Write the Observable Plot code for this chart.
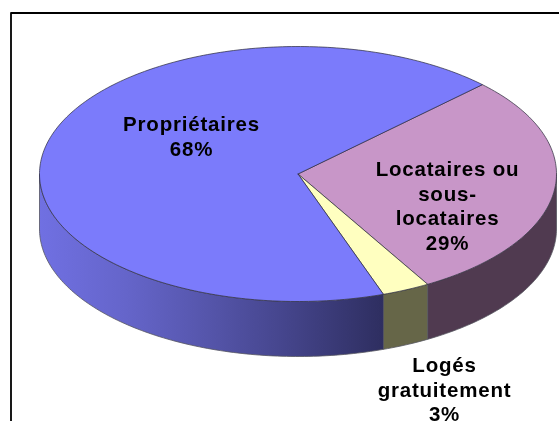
<!DOCTYPE html>
<html>
<head>
<meta charset="utf-8">
<script src="https://cdn.jsdelivr.net/npm/d3@7"></script>
<script src="https://cdn.jsdelivr.net/npm/@observablehq/plot@0.6"></script>
<style>
html, body { margin: 0; padding: 0; background: #fff; overflow: hidden; }
svg text { letter-spacing: 0.8px; }
svg { filter: blur(0.35px); }
</style>
</head>
<body>
<div id="chart"></div>
<script>
// Data
const categories = ["Locataires ou\nsous-\nlocataires", "Logés\ngratuitement", "Propriétaires"];
const shares = [29, 3, 68];

// Styles
const topColors = ["#c896c8", "#ffffc0", "#7b7bfb"];
const sideColors = ["#503a50", "#666648", "url(#sideGradient)"];
const gradientStops = [
  [0, "#7070e2"], [0.25, "#6565ca"], [0.45, "#5858b0"], [0.7, "#46468e"], [1, "#2e2e60"]
];

// Layout of the tilted disc
const cx = 297.5, cy = 173.5, rx = 258.5, ry = 127.5, depth = 55;
const startAngle = 45.5;
const labelPlaces = [[447, 158], [444, 354], [191, 113]];

const rad = Math.PI / 180;
const px = a => cx + rx * Math.sin(a * rad);
const py = a => cy - ry * Math.cos(a * rad);
const arc = (a0, a1) => {
  const n = Math.max(2, Math.ceil(Math.abs(a1 - a0)));
  return d3.range(n + 1).map(i => a0 + (a1 - a0) * i / n);
};

// Slice angles follow from the shares
let running = startAngle;
const slices = categories.map((c, i) => {
  const a0 = running;
  const a1 = a0 + shares[i] * 3.6;
  running = a1;
  return {i, a0, a1};
});

const topPoints = slices.flatMap(({i, a0, a1}) => [
  {id: i, x: cx, y: cy, fill: topColors[i]},
  ...arc(a0, a1).map(a => ({id: i, x: px(a), y: py(a), fill: topColors[i]})),
  {id: i, x: cx, y: cy, fill: topColors[i]}
]);

// The wall is visible on the front half of the disc, from 90° to 270°
const sidePoints = slices.flatMap(({i, a0, a1}) => {
  const s0 = Math.max(a0, 90), s1 = Math.min(a1, 270);
  if (s1 <= s0) return [];
  const range = arc(s0, s1);
  return [
    ...range.map(a => ({id: i, x: px(a), y: py(a), fill: sideColors[i]})),
    ...range.reverse().map(a => ({id: i, x: px(a), y: py(a) + depth, fill: sideColors[i]}))
  ].concat([{id: i, x: px(s0), y: py(s0), fill: sideColors[i]}]);
});

const labelRows = categories.map((c, i) => ({
  text: `${c}\n${shares[i]}%`,
  x: labelPlaces[i][0],
  y: labelPlaces[i][1]
}));

const frame = [{x: 10.5, y: 421}, {x: 10.5, y: 12.5}, {x: 559, y: 12.5}];

const gradient = () => {
  const svg = d3.create("svg:g");
  const g = svg.append("defs").append("linearGradient")
    .attr("id", "sideGradient")
    .attr("x1", 0).attr("x2", 1).attr("y1", 0).attr("y2", 0);
  gradientStops.forEach(([o, c]) => g.append("stop").attr("offset", o).attr("stop-color", c));
  return svg.node();
};

const plot = Plot.plot({
  width: 559,
  height: 421,
  margin: 0,
  x: {domain: [0, 559], range: [0, 559], axis: null},
  y: {domain: [0, 421], range: [0, 421], axis: null},
  color: {type: "identity"},
  marks: [
    gradient,
    Plot.line(frame, {x: "x", y: "y", stroke: "#000", strokeWidth: 1.8, curve: "linear"}),
    Plot.line(sidePoints, {x: "x", y: "y", z: "id", fill: "fill", stroke: "#55555f", strokeWidth: 0.8, curve: "linear"}),
    Plot.line(topPoints, {x: "x", y: "y", z: "id", fill: "fill", stroke: "#2a2a3a", strokeWidth: 0.7, curve: "linear"}),
    Plot.text(labelRows, {
      x: "x", y: "y", text: "text",
      lineAnchor: "top", textAnchor: "middle", lineHeight: 1.2,
      fontFamily: "Liberation Sans", fontWeight: "bold", fontSize: 20.5, fill: "#000"
    })
  ]
});
document.getElementById("chart").appendChild(plot);
</script>
</body>
</html>
